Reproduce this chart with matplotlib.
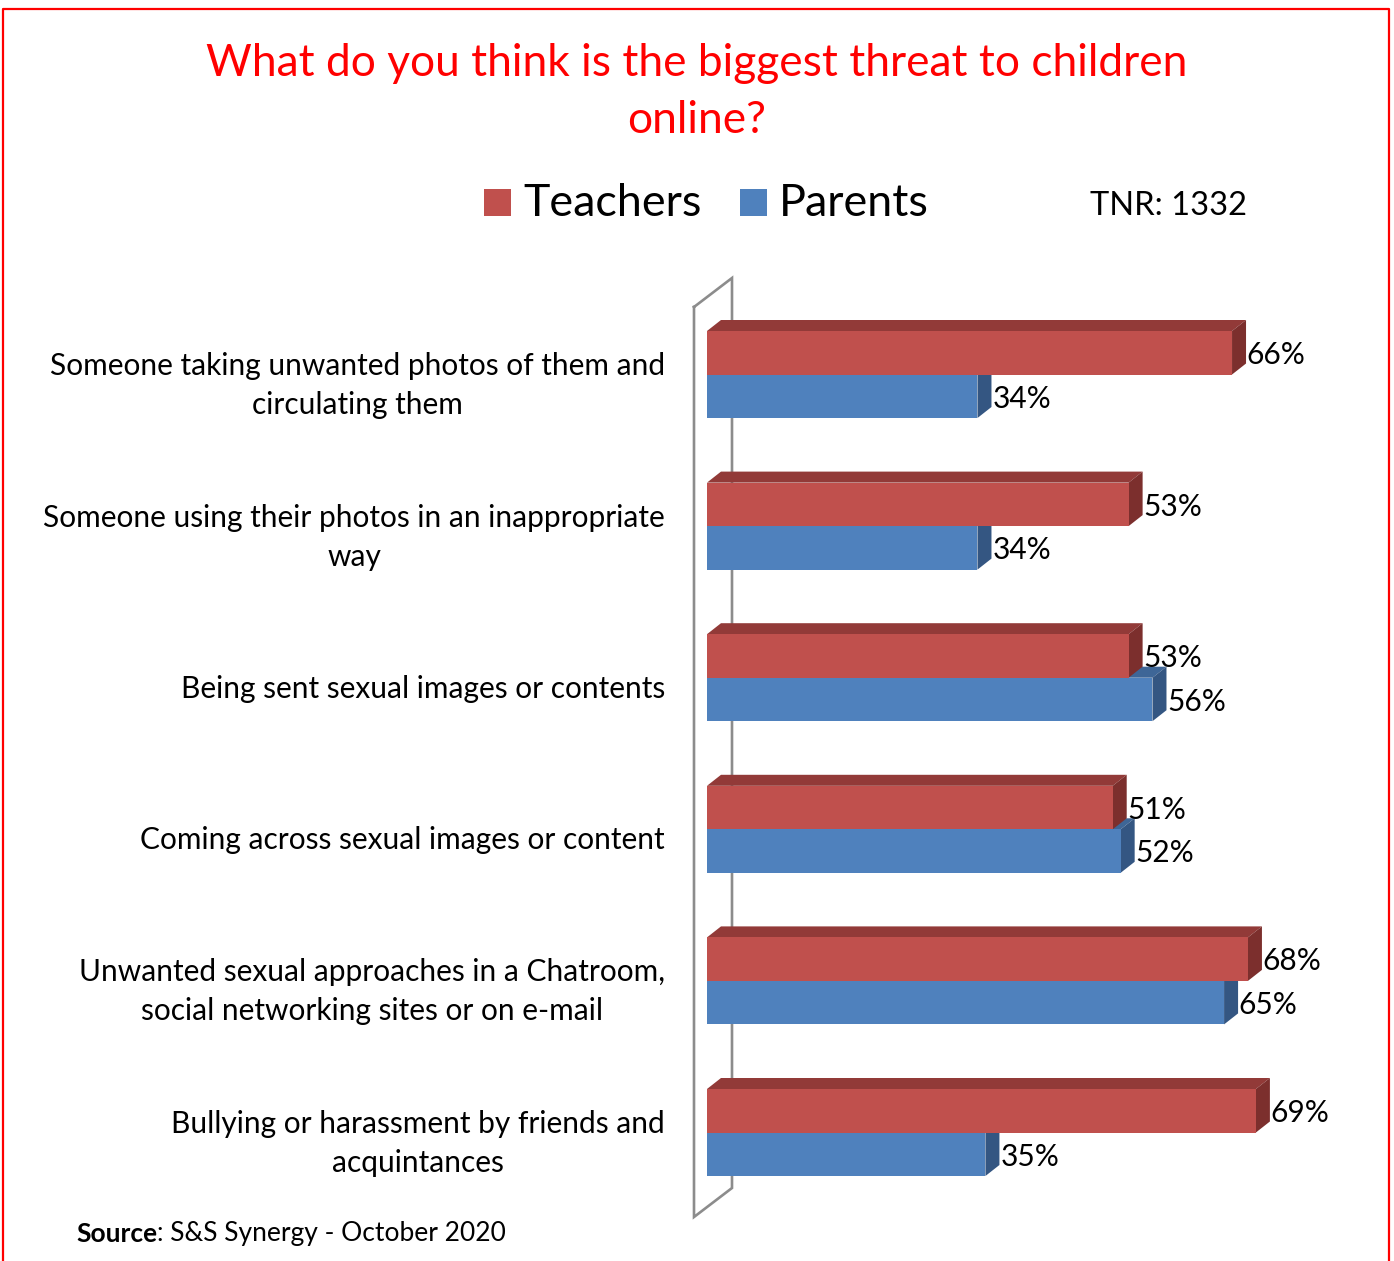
import matplotlib
matplotlib.use("Agg")
import matplotlib.pyplot as plt
from matplotlib.patches import Polygon, Rectangle

# ── Data ──────────────────────────────────────────────────────────────────────

CATEGORIES = [
    "Someone taking unwanted photos of them and\ncirculating them",
    "Someone using their photos in an inappropriate\nway",
    "Being sent sexual images or contents",
    "Coming across sexual images or content",
    "Unwanted sexual approaches in a Chatroom,\nsocial networking sites or on e-mail",
    "Bullying or harassment by friends and\nacquintances",
]
TEACHERS = [66, 53, 53, 51, 68, 69]
PARENTS = [34, 34, 56, 52, 65, 35]
SERIES = ["Teachers", "Parents"]

TITLE = "What do you think is the biggest threat to children\nonline?"
BASE_NOTE = "TNR: 1332"

# ── Styling ───────────────────────────────────────────────────────────────────

FONT = "Lato"
RED = dict(front="#C0504D", top="#923A38", side="#7C2F2D")
BLUE = dict(front="#4F81BD", top="#3E6697", side="#345682")
WALL = "#8C8C8C"

W, H = 1394, 1261
PX_PER_PCT = 7.955          # horizontal scale
PX_PER_ROW = 151.6          # distance between category groups
X0_PX, Y0_PX = 707, 374.5   # where 0% meets the first group centre
BAR_H = 43.5 / PX_PER_ROW
DX = 14 / PX_PER_PCT        # 3-D depth offset
DY = -11 / PX_PER_ROW

XLIM = (-2, 80)
YLIM = (5.65, -0.75)

plt.rcParams["font.family"] = [FONT, "DejaVu Sans"]

fig = plt.figure(figsize=(W / 100, H / 100), dpi=100)

# full-figure overlay in pixel units for title, legend and frame
bg = fig.add_axes([0, 0, 1, 1])
bg.set_xlim(0, W)
bg.set_ylim(H, 0)
bg.axis("off")

left_px = X0_PX + XLIM[0] * PX_PER_PCT
right_px = X0_PX + XLIM[1] * PX_PER_PCT
top_px = Y0_PX + YLIM[1] * PX_PER_ROW
bot_px = Y0_PX + YLIM[0] * PX_PER_ROW
ax = fig.add_axes([left_px / W, 1 - bot_px / H,
                   (right_px - left_px) / W, (bot_px - top_px) / H])
ax.set_xlim(*XLIM)
ax.set_ylim(*YLIM)
ax.axis("off")

# ── Side wall of the 3-D plot area ────────────────────────────────────────────
wx_front, wx_back = (694 - X0_PX) / PX_PER_PCT, (732 - X0_PX) / PX_PER_PCT
wall_y = [(v - Y0_PX) / PX_PER_ROW for v in (307, 278, 1188, 1217)]
ax.plot([wx_front, wx_back, wx_back, wx_front, wx_front],
        [wall_y[0], wall_y[1], wall_y[2], wall_y[3], wall_y[0]],
        color=WALL, lw=1.9, clip_on=False, zorder=1,
        solid_joinstyle="miter")


def bar3d(v, yt, yb, col, z):
    front = [(0, yt), (v, yt), (v, yb), (0, yb)]
    top = [(0, yt), (DX, yt + DY), (v + DX, yt + DY), (v, yt)]
    side = [(v, yt), (v + DX, yt + DY), (v + DX, yb + DY), (v, yb)]
    for pts, c in ((top, col["top"]), (side, col["side"]), (front, col["front"])):
        ax.add_patch(Polygon(pts, closed=True, facecolor=c, edgecolor="none",
                             zorder=z, clip_on=False))


for i, (t, p) in enumerate(zip(TEACHERS, PARENTS)):
    # parents sit in the lower half, drawn first so teachers overlap its top
    bar3d(p, i, i + BAR_H, BLUE, 2)
    bar3d(t, i - BAR_H, i, RED, 3)
    ax.text(t + DX + 0.1, i - BAR_H / 2 + 0.015, f"{t}%", fontsize=21.5,
            va="center", ha="left", zorder=4)
    ax.text(p + DX + 0.1, i + BAR_H / 2 + 0.015, f"{p}%", fontsize=21.5,
            va="center", ha="left", zorder=4)
    ax.text((665 - X0_PX) / PX_PER_PCT, i + 11 / PX_PER_ROW, CATEGORIES[i],
            fontsize=21.5, ha="right", va="center", multialignment="center",
            linespacing=1.48, clip_on=False)

# ── Title, legend, notes, frame ───────────────────────────────────────────────
bg.text(697, 92, TITLE, color="#FF0000", fontsize=31.9, ha="center",
        va="center", linespacing=1.48)

for (x, name), col in zip(((484, SERIES[0]), (740, SERIES[1])), (RED, BLUE)):
    bg.add_patch(Rectangle((x, 189), 27, 27, facecolor=col["front"],
                           edgecolor="none"))
    bg.text(x + 39, 204, name, fontsize=32.3, ha="left", va="center")

bg.text(1090, 206, BASE_NOTE, fontsize=23.5, ha="left", va="center")

src = bg.text(76, 1234, "Source", fontsize=19, fontweight="bold",
              ha="left", va="center")
fig.canvas.draw()
src_right = bg.transData.inverted().transform(
    (src.get_window_extent().x1, 0))[0]
bg.text(src_right, 1234, ": S&S Synergy - October 2020", fontsize=19,
        ha="left", va="center")

bg.plot([3, 3, 1389, 1389], [H + 5, 8.5, 8.5, H + 5], color="#FF0000",
        lw=1.6, clip_on=False)

fig.savefig("out.png", dpi=100)
